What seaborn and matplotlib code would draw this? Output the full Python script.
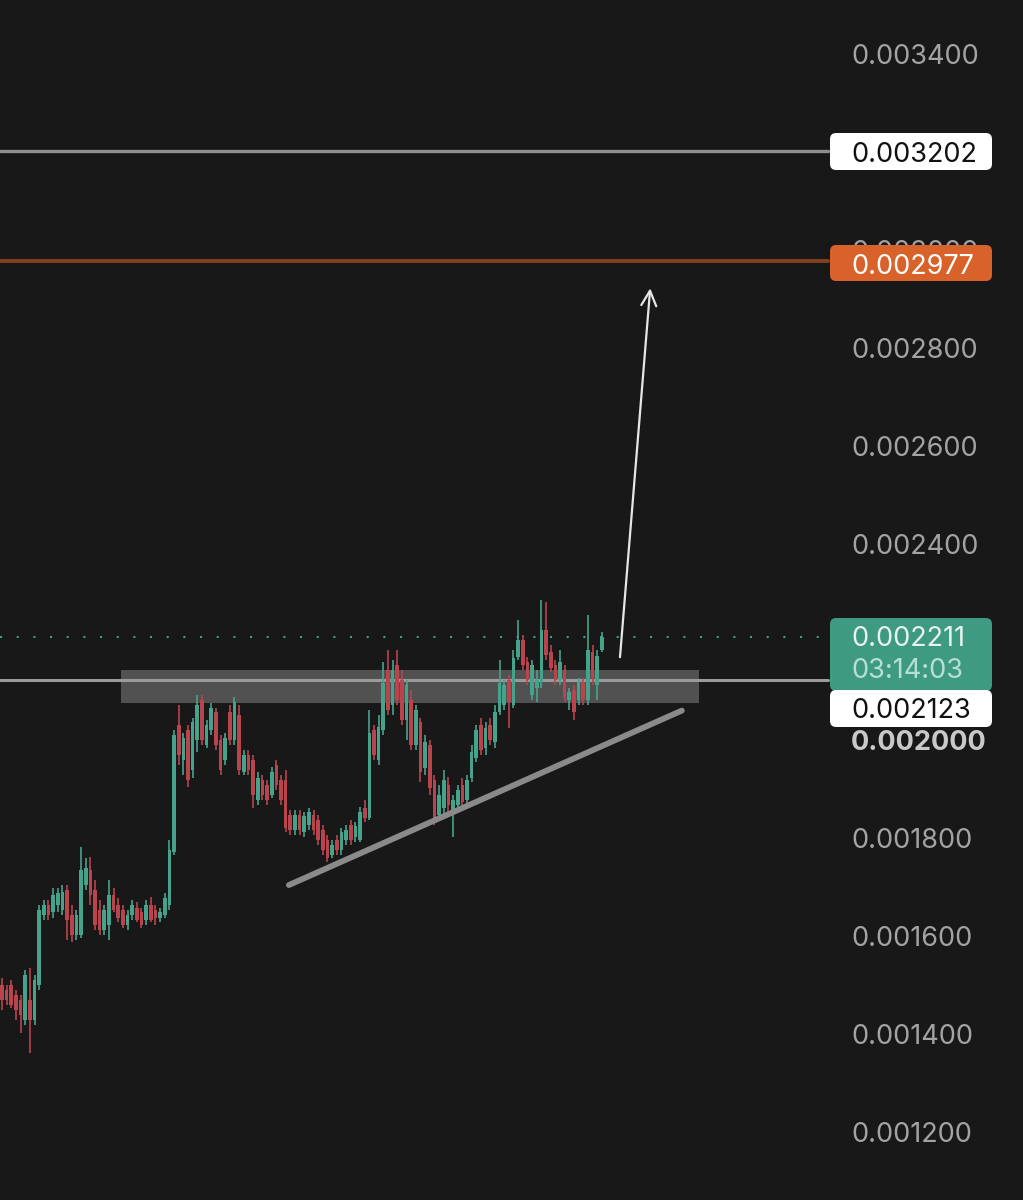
import numpy as np
import pandas as pd
import matplotlib
matplotlib.use("Agg")
import matplotlib.pyplot as plt
import seaborn as sns
from matplotlib.patches import FancyBboxPatch

# ---------------- data (prices in millionths) ----------------
opens = [1500, 1490, 1500, 1480, 1470, 1429, 1470, 1429, 1500, 1643,
         1664, 1649, 1664, 1653, 1694, 1643, 1602, 1602, 1704, 1735,
         1694, 1653, 1613, 1623, 1684, 1664, 1653, 1623, 1643, 1657,
         1649, 1633, 1664, 1653, 1637, 1643, 1664, 1772, 2031, 1960,
         2021, 1939, 2000, 2082, 1990, 2021, 2058, 2000, 1960, 2058,
         2000, 2051, 1935, 1970, 1960, 1878, 1919, 1908, 1888, 1949,
         1919, 1919, 1847, 1817, 1847, 1813, 1827, 1847, 1837, 1817,
         1796, 1766, 1796, 1776, 1796, 1827, 1802, 1796, 1861, 1841,
         2021, 1960, 2021, 2143, 2072, 2154, 2123, 2041, 2082, 1990,
         2037, 1943, 1990, 1919, 1847, 1861, 1908, 1853, 1868, 1908,
         1878, 1923, 1964, 2031, 1984, 2031, 1996, 2058, 2072, 2123,
         2072, 2170, 2204, 2160, 2092, 2107, 2119, 2225, 2180, 2154,
         2123, 2143, 2082, 2102, 2082, 2119, 2082, 2180, 2113, 2184]
highs = [1515, 1500, 1510, 1490, 1480, 1531, 1535, 1521, 1664, 1674,
         1674, 1698, 1698, 1704, 1704, 1664, 1653, 1782, 1760, 1762,
         1715, 1674, 1664, 1715, 1698, 1678, 1664, 1653, 1674, 1670,
         1657, 1674, 1680, 1664, 1657, 1688, 1796, 2021, 2072, 2015,
         2031, 2045, 2092, 2092, 2041, 2076, 2066, 2011, 2015, 2072,
         2088, 2072, 1980, 1980, 1970, 1935, 1929, 1919, 1945, 1960,
         1929, 1939, 1857, 1857, 1857, 1853, 1861, 1857, 1847, 1827,
         1806, 1796, 1806, 1821, 1827, 1837, 1833, 1863, 1878, 2062,
         2031, 2051, 2160, 2184, 2164, 2184, 2143, 2123, 2102, 2072,
         2045, 2011, 2000, 1929, 1908, 1939, 1925, 1888, 1908, 1923,
         1929, 1990, 2031, 2045, 2037, 2045, 2072, 2164, 2123, 2133,
         2184, 2245, 2215, 2170, 2164, 2143, 2286, 2282, 2194, 2164,
         2184, 2154, 2107, 2113, 2127, 2127, 2256, 2194, 2184, 2221]
lows = [1449, 1459, 1453, 1429, 1402, 1419, 1362, 1419, 1490, 1633,
        1633, 1637, 1649, 1643, 1592, 1588, 1592, 1596, 1694, 1664,
        1613, 1602, 1602, 1592, 1649, 1629, 1617, 1613, 1633, 1629,
        1617, 1623, 1629, 1623, 1629, 1637, 1653, 1766, 1949, 1929,
        1904, 1923, 1976, 1990, 1984, 2011, 1980, 1929, 1949, 1990,
        1990, 1929, 1929, 1929, 1862, 1868, 1878, 1868, 1882, 1898,
        1868, 1812, 1806, 1806, 1806, 1802, 1817, 1806, 1786, 1766,
        1751, 1760, 1766, 1766, 1786, 1786, 1792, 1792, 1833, 1837,
        1960, 1949, 2011, 2051, 2051, 2072, 2031, 2000, 1980, 1980,
        1915, 1929, 1888, 1827, 1837, 1847, 1853, 1802, 1857, 1861,
        1868, 1915, 1955, 1970, 1970, 1990, 1984, 2051, 2062, 2025,
        2066, 2164, 2143, 2113, 2082, 2078, 2107, 2164, 2139, 2113,
        2113, 2078, 2062, 2041, 2072, 2072, 2072, 2113, 2082, 2180]
closes = [1470, 1470, 1459, 1449, 1439, 1521, 1429, 1511, 1653, 1664,
          1643, 1684, 1688, 1690, 1633, 1602, 1643, 1735, 1739, 1684,
          1623, 1613, 1653, 1684, 1653, 1637, 1623, 1643, 1664, 1633,
          1623, 1664, 1633, 1637, 1649, 1678, 1776, 2011, 1970, 2004,
          1919, 2037, 2072, 2000, 2031, 2066, 1990, 1939, 2004, 2000,
          2078, 1939, 1970, 1939, 1888, 1923, 1888, 1878, 1935, 1908,
          1878, 1821, 1817, 1847, 1817, 1845, 1853, 1817, 1796, 1776,
          1760, 1786, 1776, 1813, 1817, 1796, 1825, 1853, 1841, 2015,
          1970, 2027, 2117, 2062, 2143, 2082, 2041, 2113, 1990, 2062,
          1935, 1996, 1902, 1841, 1888, 1919, 1868, 1878, 1898, 1874,
          1919, 1976, 2021, 1980, 2025, 2000, 2058, 2117, 2113, 2078,
          2168, 2204, 2154, 2123, 2154, 2123, 2225, 2174, 2147, 2123,
          2160, 2086, 2098, 2058, 2119, 2082, 2184, 2127, 2172, 2211]

tick_values = [0.0034, 0.0032, 0.0030, 0.0028, 0.0026, 0.0024,
               0.0022, 0.0020, 0.0018, 0.0016, 0.0014, 0.0012]
level_white = 0.003202
level_orange = 0.002977
level_support = 0.002123
last_price = 0.002211
countdown = "03:14:03"
zone_low, zone_high = 0.002076, 0.002143
zone_start, zone_end = 25.6, 149.9          # candle index range
trend_x = [61.7, 146.2]
trend_y = [0.001704, 0.002060]
arrow_x = [132.9, 139.4]
arrow_y = [0.002169, 0.002922]

# ---------------- styling ----------------
BG = "#181818"
GREEN = "#45a38c"
RED = "#b8444e"
FS = 19.5
sns.set_theme(style="dark", rc={"axes.facecolor": BG, "figure.facecolor": BG})
plt.rcParams["font.family"] = ["Inter", "DejaVu Sans"]

df = pd.DataFrame({
    "idx": np.arange(len(opens)),
    "open": np.array(opens) * 1e-6,
    "high": np.array(highs) * 1e-6,
    "low": np.array(lows) * 1e-6,
    "close": np.array(closes) * 1e-6,
})
df["up"] = df["close"] >= df["open"]
df["color"] = np.where(df["up"], GREEN, RED)
df["body_lo"] = df[["open", "close"]].min(axis=1)
df["body_h"] = (df["close"] - df["open"]).abs().clip(lower=4e-6)

W, H = 1023, 1200
fig = plt.figure(figsize=(W / 100, H / 100), dpi=100)
ax = fig.add_axes([0, 0, 1, 1])
ax.set_facecolor(BG)

# pixel mapping: x_px = 2 + 4.65 * idx ; y_px = 54 + (0.0034 - p) / 0.0002 * 98
px_per_idx = 4.65
ax.set_xlim(-2 / px_per_idx, (W - 2) / px_per_idx)
ppp = 0.0002 / 98  # price per pixel
ylo = 0.0034 - (H - 54) * ppp
yhi = 0.0034 + 54 * ppp
ax.set_ylim(ylo, yhi)
ax.axis("off")

TEXT_DY = 3.5 / H   # small downward nudge so glyphs are optically centred

def yfrac(p):
    return (p - ylo) / (yhi - ylo)

line_end = 828 / W

# zone
ax.fill_between([zone_start, zone_end], zone_low, zone_high,
                color="#ffffff", alpha=0.25, lw=0, zorder=1)

# horizontal levels
ax.axhline(level_white, xmin=0, xmax=line_end, color="#8e8e8e", lw=2.4, zorder=2)
ax.axhline(level_orange, xmin=0, xmax=line_end, color="#82421f", lw=2.8, zorder=2)
ax.axhline(level_support, xmin=0, xmax=line_end, color="#9a9a9a", lw=2.2, zorder=2)
ax.axhline(last_price, xmin=0, xmax=line_end, color="#3f9c85", lw=1.5,
           linestyle=(0, (1, 7)), zorder=2)

# candles
ax.vlines(df["idx"], df["low"], df["high"], colors=df["color"], lw=1.2, zorder=3)
ax.bar(df["idx"], df["body_h"], bottom=df["body_lo"], width=0.78,
       color=df["color"], linewidth=0, zorder=4)

# trend line
sns.lineplot(x=trend_x, y=trend_y, ax=ax, color="#8a8a8a", lw=4.2,
             solid_capstyle="round", zorder=5, legend=False)

# arrow
ax.annotate("", xy=(arrow_x[1], arrow_y[1]), xytext=(arrow_x[0], arrow_y[0]),
            arrowprops=dict(arrowstyle="->,head_length=0.9,head_width=0.45",
                            color="#e6e6e6", lw=1.6, shrinkA=0, shrinkB=0),
            zorder=6)

# price scale tick labels
tx = 851 / W
hidden = {0.0032, 0.0022}
for v in tick_values:
    if v in hidden:
        continue
    bold = abs(v - 0.0020) < 1e-9
    ax.text(tx, yfrac(v) - TEXT_DY, f"{v:.6f}", transform=ax.transAxes,
            ha="left", va="center", fontsize=FS,
            color="#c9c9c9" if bold else "#a3a3a3",
            fontweight="bold" if bold else "normal", zorder=7)

# label boxes
bx0, bx1 = 830 / W, 992 / W
def label_box(top_px, bot_px, face, zorder=8):
    y0 = 1 - bot_px / H
    h = (bot_px - top_px) / H
    p = FancyBboxPatch((bx0, y0), bx1 - bx0, h, transform=ax.transAxes,
                       boxstyle="round,pad=0,rounding_size=0.006",
                       mutation_aspect=W / H, facecolor=face, edgecolor="none",
                       zorder=zorder)
    ax.add_patch(p)

def box_text(center_px, s, color, zorder=9):
    ax.text(tx, 1 - center_px / H - TEXT_DY, s, transform=ax.transAxes,
            ha="left", va="center", fontsize=FS, color=color, zorder=zorder)

label_box(133, 170, "#ffffff")
box_text(151, f"{level_white:.6f}", "#111111")
label_box(245, 281, "#d8622a")
box_text(263, f"{level_orange:.6f}", "#ffffff")
label_box(618, 691, "#3f9a82")
box_text(636, f"{last_price:.6f}", "#e6f4ef")
box_text(668, countdown, "#b6e0d3")
label_box(690, 727, "#ffffff", zorder=8.5)
box_text(708, f"{level_support:.6f}", "#111111")

fig.savefig("out.png", dpi=100, facecolor=BG)
